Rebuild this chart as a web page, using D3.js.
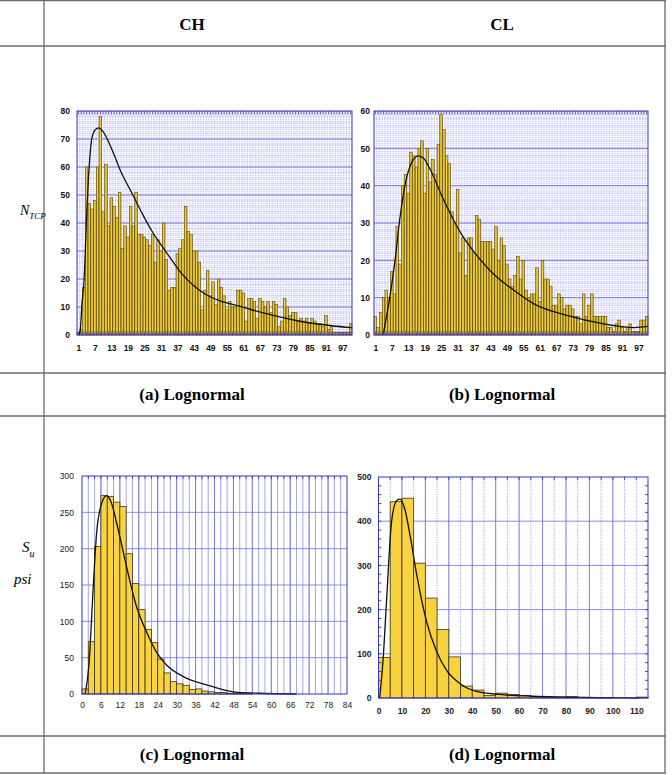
<!DOCTYPE html>
<html>
<head>
<meta charset="utf-8">
<script src="https://cdn.jsdelivr.net/npm/d3@7"></script>
<style>
  body { margin: 0; background: #fff; }
  svg { display: block; }
</style>
</head>
<body>
<svg id="fig" width="672" height="775"></svg>
<script>
/* ---------- data ---------- */
const binLabels = [1, 7, 13, 19, 25, 31, 37, 43, 49, 55, 61, 67, 73, 79, 85, 91, 97];
const bins = d3.range(1, 101);

const chCounts = [
  1, 2, 17, 60, 47, 45, 48, 60, 78, 44,
  61, 39, 49, 46, 42, 51, 31, 39, 35, 46,
  39, 51, 36, 36, 35, 34, 32, 36, 26, 34,
  30, 40, 27, 16, 17, 17, 29, 31, 34, 46,
  37, 36, 30, 30, 26, 9, 16, 23, 14, 19,
  11, 20, 17, 14, 9, 12, 10, 10, 16, 16,
  15, 5, 13, 13, 12, 6, 13, 12, 10, 12,
  8, 12, 11, 3, 5, 13, 10, 7, 8, 8,
  5, 6, 5, 6, 4, 6, 5, 4, 4, 3,
  7, 2, 3, 1, 1, 1, 1, 1, 1, 4
];
const clCounts = [
  5, 2, 6, 10, 12, 10, 17, 11, 29, 19,
  40, 43, 38, 49, 48, 45, 50, 52, 38, 50,
  41, 47, 43, 51, 59, 55, 48, 46, 33, 30,
  39, 22, 26, 16, 26, 26, 22, 32, 31, 25,
  25, 25, 25, 23, 29, 20, 26, 24, 19, 15,
  13, 16, 21, 15, 20, 12, 10, 11, 11, 18,
  9, 20, 15, 15, 13, 8, 8, 11, 10, 7,
  8, 8, 7, 5, 5, 3, 11, 5, 8, 11,
  5, 5, 5, 5, 5, 2, 2, 1, 3, 4,
  2, 1, 2, 3, 1, 1, 1, 4, 4, 5
];
// fitted lognormal curves: [bin, count]
const chFit = [[1, 0], [1.6, 1], [2.3, 11], [3.1, 20], [3.9, 40], [4.8, 58], [5.7, 69], [6.9, 73],
  [8.4, 74], [10, 72.6], [13, 66.7], [16.6, 58], [20.3, 51], [23.9, 44], [27.5, 37.5], [31.2, 32],
  [34.8, 27], [38.5, 22], [43.3, 17.3], [48.2, 14], [53, 12], [56.8, 11], [69, 7.7], [81.1, 5],
  [93.2, 3.3], [100.5, 2.6]];
const clFit = [[3.8, 0], [6.2, 9.8], [8.1, 19.6], [9.9, 31], [11.7, 39.7], [14.1, 46], [16.6, 48],
  [18.4, 47.5], [21.4, 43.8], [25.1, 37.5], [28.7, 32], [32.4, 27], [37.3, 22], [44.6, 16],
  [50.6, 12.5], [59.2, 8.2], [71.3, 5.2], [83.5, 3.1], [95.6, 2], [100.5, 2.3]];

// Su histograms: bin start values and counts
const suChStarts = d3.range(0, 84, 2);
const suChCounts = [7, 72, 203, 273, 272, 264, 258, 193, 152, 116,
  89, 71, 48, 29, 17, 14, 12, 6, 7, 4,
  3, 2, 2, 1, 1, 1, 1, 0, 0, 0,
  0, 0, 0, 0, 0, 0, 0, 0, 0, 0, 0, 0];
const suChFit = [[1, 0], [2.2, 40], [3.6, 150], [4.6, 220], [6.2, 262], [7.8, 273], [9.4, 262],
  [11, 235], [13.1, 195], [15.2, 155], [17.3, 120], [20.5, 85], [23.7, 57], [26.8, 40], [32.1, 24],
  [40, 12], [48, 3], [56, 1], [68, 0]];
const suChTicks = [0, 6, 12, 18, 24, 30, 36, 42, 48, 54, 60, 66, 72, 78, 84];

const suClStarts = d3.range(0, 115, 5);
const suClCounts = [92, 444, 452, 305, 226, 155, 93, 27, 18, 6, 11, 8, 6, 3, 2, 2, 3, 1, 1, 1, 0, 0, 2];
const suClFit = [[0.5, 0], [2, 90], [3.5, 226], [5.6, 400], [7.8, 447], [9.2, 450], [11.3, 426],
  [13.4, 370], [16.3, 279], [20.5, 173], [24.8, 105], [29, 63], [34.7, 33], [41.8, 15], [51.8, 8],
  [66, 4], [94, 1], [111, 0]];
const suClTicks = [0, 10, 20, 30, 40, 50, 60, 70, 80, 90, 100, 110];

const colHeads = ["CH", "CL"];
const captions = ["(a) Lognormal", "(b) Lognormal", "(c) Lognormal", "(d) Lognormal"];

/* ---------- page / table ---------- */
const svg = d3.select("#fig");
const serif = "'Liberation Serif', 'Times New Roman', serif";
const sans = "'Liberation Sans', Arial, sans-serif";
const gridBlue = "#7070dd";
const frameBlue = "#3535c0";

const table = svg.append("g").attr("stroke", "#6a6a6a").attr("stroke-width", 1.3);
[0.7, 46, 373, 416, 736, 773].forEach(y =>
  table.append("line").attr("x1", 0).attr("x2", 666).attr("y1", y).attr("y2", y));
[44, 665].forEach(x =>
  table.append("line").attr("x1", x).attr("x2", x).attr("y1", 0).attr("y2", 773));

const colCenters = [192, 502];
svg.selectAll("text.head").data(colHeads).join("text")
  .attr("x", (d, i) => colCenters[i]).attr("y", 30)
  .attr("text-anchor", "middle").style("font", `bold 17px ${serif}`).text(d => d);

svg.selectAll("text.cap").data(captions).join("text")
  .attr("x", (d, i) => colCenters[i % 2]).attr("y", (d, i) => i < 2 ? 400 : 760)
  .attr("text-anchor", "middle").style("font", `bold 17px ${serif}`).text(d => d);

// row labels
const nLab = svg.append("text").attr("x", 20).attr("y", 215).style("font", `italic 14px ${serif}`);
nLab.append("tspan").text("N");
nLab.append("tspan").attr("dy", 4).style("font-size", "9px").text("TCP");

const sLab = svg.append("text").attr("x", 22).attr("y", 552).style("font", `italic 15px ${serif}`);
sLab.append("tspan").text("S");
sLab.append("tspan").attr("dy", 5).style("font-size", "10px").text("u");
svg.append("text").attr("x", 14).attr("y", 584).style("font", `italic 15px ${serif}`).text("psi");

/* ---------- bar gradient ---------- */
const defs = svg.append("defs");
const grad = defs.append("linearGradient").attr("id", "goldBar").attr("x1", 0).attr("x2", 1).attr("y1", 0).attr("y2", 0);
grad.append("stop").attr("offset", "0%").attr("stop-color", "#b8951c");
grad.append("stop").attr("offset", "50%").attr("stop-color", "#f3d440");
grad.append("stop").attr("offset", "100%").attr("stop-color", "#b8951c");

const fitLine = (x, y) => d3.line().x(d => x(d[0])).y(d => y(d[1])).curve(d3.curveMonotoneX);

/* ---------- N_TCP panels (100 bins) ---------- */
function drawBinPanel(p) {
  const x = d3.scaleLinear().domain([0.5, 100.5]).range([p.x0, p.x1]);
  const y = d3.scaleLinear().domain([0, p.yMax]).range([p.y1, p.y0]);
  const g = svg.append("g");
  const bw = x(1.5) - x(0.5);

  g.append("rect").attr("x", p.x0).attr("y", p.y0).attr("width", p.x1 - p.x0).attr("height", p.y1 - p.y0)
    .attr("fill", "#f4f4ff");
  // minor grid
  g.selectAll("line.vmin").data(d3.range(1, 100)).join("line")
    .attr("x1", d => x(d + 0.5)).attr("x2", d => x(d + 0.5)).attr("y1", p.y0).attr("y2", p.y1)
    .attr("stroke", "#9c9cec").attr("stroke-width", 0.6).attr("stroke-dasharray", "1,1");
  g.selectAll("line.hmin").data(d3.range(2, p.yMax, 2)).join("line")
    .attr("x1", p.x0).attr("x2", p.x1).attr("y1", d => y(d)).attr("y2", d => y(d))
    .attr("stroke", "#a8a8ee").attr("stroke-width", 0.6).attr("stroke-dasharray", "1,1");
  // major grid
  g.selectAll("line.hmaj").data(d3.range(10, p.yMax, 10)).join("line")
    .attr("x1", p.x0).attr("x2", p.x1).attr("y1", d => y(d)).attr("y2", d => y(d))
    .attr("stroke", gridBlue).attr("stroke-width", 0.9);

  // bars
  g.selectAll("rect.bar").data(p.counts).join("rect")
    .attr("x", (d, i) => x(bins[i] - 0.5)).attr("width", bw)
    .attr("y", d => y(d)).attr("height", d => y(0) - y(d))
    .attr("fill", "url(#goldBar)").attr("stroke", "#4d3f06").attr("stroke-width", 0.5);

  g.append("path").datum(p.fit).attr("d", fitLine(x, y))
    .attr("fill", "none").attr("stroke", "#111").attr("stroke-width", 1.3);

  // frame + dense ticks
  g.append("rect").attr("x", p.x0).attr("y", p.y0).attr("width", p.x1 - p.x0).attr("height", p.y1 - p.y0)
    .attr("fill", "none").attr("stroke", frameBlue).attr("stroke-width", 1);
  g.selectAll("line.tt").data(bins).join("line")
    .attr("x1", d => x(d)).attr("x2", d => x(d)).attr("y1", p.y0).attr("y2", p.y0 + 3.5)
    .attr("stroke", frameBlue).attr("stroke-width", 0.8);
  g.selectAll("line.bt").data(bins).join("line")
    .attr("x1", d => x(d)).attr("x2", d => x(d)).attr("y1", p.y1).attr("y2", p.y1 - 3.5)
    .attr("stroke", frameBlue).attr("stroke-width", 0.8);

  const xa = g.append("g").attr("transform", `translate(0,${p.y1})`)
    .call(d3.axisBottom(x).tickValues(binLabels).tickSize(0).tickPadding(10));
  const ya = g.append("g").attr("transform", `translate(${p.x0},0)`)
    .call(d3.axisLeft(y).tickValues(d3.range(0, p.yMax + 1, 10)).tickSize(0).tickPadding(p.yPad));
  [xa, ya].forEach(a => {
    a.select(".domain").remove();
    a.selectAll("text").style("font", `bold 8.5px ${sans}`).attr("fill", "#111");
  });
}

drawBinPanel({ x0: 77, x1: 352, y0: 111, y1: 335, yMax: 80, counts: chCounts, fit: chFit, yPad: 7 });
drawBinPanel({ x0: 374, x1: 648, y0: 111, y1: 335, yMax: 60, counts: clCounts, fit: clFit, yPad: 4 });

/* ---------- Su panels ---------- */
function drawHistPanel(p) {
  const x = d3.scaleLinear().domain([0, p.xMax]).range([p.x0, p.x1]);
  const y = d3.scaleLinear().domain([0, p.yMax]).range([p.y1, p.y0]);
  const g = svg.append("g");

  g.selectAll("line.vmin").data(d3.range(p.minorX, p.xMax, p.minorX)).join("line")
    .attr("x1", d => x(d)).attr("x2", d => x(d)).attr("y1", p.y0).attr("y2", p.y1)
    .attr("stroke", "#8080e2").attr("stroke-width", 0.7).attr("stroke-dasharray", p.minorDash);
  g.selectAll("line.vmaj").data(p.xTicks.slice(1, -1)).join("line")
    .attr("x1", d => x(d)).attr("x2", d => x(d)).attr("y1", p.y0).attr("y2", p.y1)
    .attr("stroke", gridBlue).attr("stroke-width", 0.8);
  g.selectAll("line.hmaj").data(d3.range(p.yStep, p.yMax, p.yStep)).join("line")
    .attr("x1", p.x0).attr("x2", p.x1).attr("y1", d => y(d)).attr("y2", d => y(d))
    .attr("stroke", gridBlue).attr("stroke-width", 0.8);

  g.selectAll("rect.bar").data(p.counts).join("rect")
    .attr("x", (d, i) => x(p.starts[i])).attr("width", x(p.binW) - x(0))
    .attr("y", d => y(d)).attr("height", d => y(0) - y(d))
    .attr("fill", "#f8d33f").attr("stroke", "#3a3320").attr("stroke-width", 0.8);

  g.append("path").datum(p.fit).attr("d", fitLine(x, y))
    .attr("fill", "none").attr("stroke", "#111").attr("stroke-width", 1.3);

  g.append("rect").attr("x", p.x0).attr("y", p.y0).attr("width", p.x1 - p.x0).attr("height", p.y1 - p.y0)
    .attr("fill", "none").attr("stroke", frameBlue).attr("stroke-width", 1);
  g.selectAll("line.tt").data(d3.range(p.minorX, p.xMax, p.minorX)).join("line")
    .attr("x1", d => x(d)).attr("x2", d => x(d)).attr("y1", p.y0).attr("y2", p.y0 + 3)
    .attr("stroke", frameBlue).attr("stroke-width", 0.9);
  if (p.minorY) {
    const ys = d3.range(p.minorY, p.yMax, p.minorY);
    g.selectAll("line.lt").data(ys).join("line")
      .attr("x1", p.x0).attr("x2", p.x0 + 3).attr("y1", d => y(d)).attr("y2", d => y(d))
      .attr("stroke", frameBlue).attr("stroke-width", 0.9);
    g.selectAll("line.rt").data(ys).join("line")
      .attr("x1", p.x1).attr("x2", p.x1 - 3).attr("y1", d => y(d)).attr("y2", d => y(d))
      .attr("stroke", frameBlue).attr("stroke-width", 0.9);
  }

  const xa = g.append("g").attr("transform", `translate(0,${p.y1})`)
    .call(d3.axisBottom(x).tickValues(p.xTicks).tickSize(0).tickPadding(p.xPad));
  const ya = g.append("g").attr("transform", `translate(${p.x0},0)`)
    .call(d3.axisLeft(y).tickValues(d3.range(0, p.yMax + 1, p.yStep)).tickSize(0).tickPadding(p.yPad));
  [xa, ya].forEach(a => {
    a.select(".domain").remove();
    a.selectAll("text").style("font", `${p.weight} 8.5px ${sans}`).attr("fill", "#222");
  });
}

drawHistPanel({ x0: 82, x1: 347, y0: 476, y1: 694, xMax: 84, yMax: 300, yStep: 50, binW: 2,
  starts: suChStarts, counts: suChCounts, fit: suChFit, xTicks: suChTicks, minorX: 2, minorDash: null,
  xPad: 8, yPad: 8, weight: "normal" });
drawHistPanel({ x0: 378.5, x1: 648, y0: 477, y1: 698, xMax: 115, yMax: 500, yStep: 100, binW: 5,
  starts: suClStarts, counts: suClCounts, fit: suClFit, xTicks: suClTicks, minorX: 5, minorY: 20,
  minorDash: "1.2,1.2", xPad: 10, yPad: 7, weight: "bold" });
</script>
</body>
</html>
